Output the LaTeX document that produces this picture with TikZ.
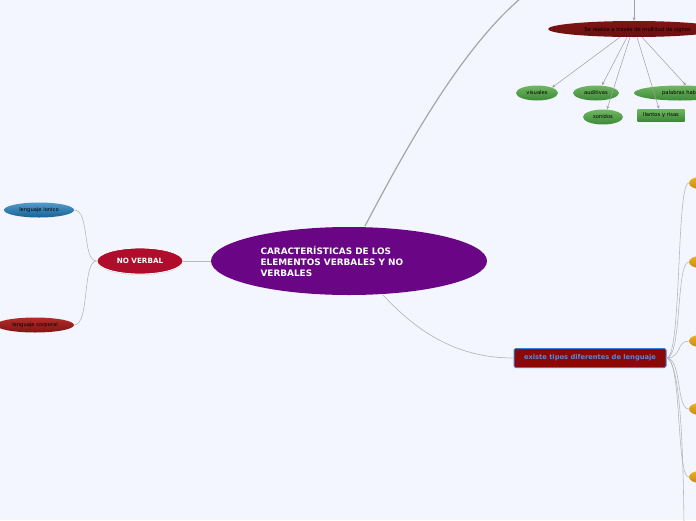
\documentclass[tikz,border=0pt]{standalone}
\usepackage{fontspec}
\setmainfont{DejaVu Sans}
\usetikzlibrary{shapes.geometric,arrows.meta,shadows}
\definecolor{bgc}{RGB}{243,246,254}
\definecolor{mainpurple}{RGB}{106,5,133}
\definecolor{crimson}{RGB}{176,12,44}
\definecolor{bluenode}{RGB}{38,130,188}
\definecolor{bluenodedk}{RGB}{24,96,150}
\definecolor{darkred}{RGB}{130,20,20}
\definecolor{darkredlt}{RGB}{175,45,40}
\definecolor{boxred}{RGB}{138,8,8}
\definecolor{boxblue}{RGB}{60,126,219}
\definecolor{greenlt}{RGB}{112,182,96}
\definecolor{greendk}{RGB}{60,138,56}
\definecolor{orangen}{RGB}{232,160,32}
\definecolor{linec}{RGB}{185,185,185}
\definecolor{arrowc}{RGB}{160,160,160}
\tikzset{
  x=1pt,y=-1pt,
  conn/.style={draw=linec,line width=0.6pt},
  thickconn/.style={draw=linec!90!black,line width=1.2pt},
  arr/.style={draw=arrowc,line width=0.5pt,-{Stealth[length=3.5pt,width=3pt]}},
  ell/.style={ellipse,inner sep=0pt,font=\fontsize{5.2}{6}\selectfont,text=black},
  greenell/.style={ell,top color=greenlt,bottom color=greendk},
  orangenode/.style={ellipse,inner sep=0pt,minimum width=22pt,minimum height=12pt,top color=orangen!80!yellow,bottom color=orangen!85!black}
}
\begin{document}
\begin{tikzpicture}
\fill[bgc] (0,0) rectangle (696,520);
\useasboundingbox (0,0) rectangle (696,520);
\clip (0,0) rectangle (696,520);

% main node
\node[ellipse,fill=mainpurple,minimum width=276pt,minimum height=68pt,inner sep=0pt] (main) at (349,261) {};
\node[anchor=west,text=white,align=left,font=\bfseries\fontsize{8.9}{11}\selectfont] (maintext) at (257,261) {CARACTERÍSTICAS DE LOS\\ELEMENTOS VERBALES Y NO\\VERBALES};

% no verbal
\node[ellipse,fill=crimson,draw=white,line width=0.8pt,minimum width=86pt,minimum height=26pt,inner sep=0pt,text=white,font=\bfseries\fontsize{7.2}{8}\selectfont,drop shadow={opacity=0.25,shadow xshift=0pt,shadow yshift=-1pt}] (nv) at (140,261) {NO VERBAL};
\node[ell,top color=bluenode!80!white,bottom color=bluenodedk,minimum width=70pt,minimum height=15pt] (icon) at (39,210) {lenguaje ionico};
\node[ell,top color=darkredlt,bottom color=darkred,minimum width=78pt,minimum height=15pt] (corp) at (35,325) {lenguaje corporal};

\draw[conn] (main.west) -- (nv.east);
\draw[conn] (nv.west) .. controls (82,261) and (90,210) .. (icon.east);
\draw[conn] (nv.west) .. controls (82,261) and (90,325) .. (corp.east);

% exist box
\node[rectangle,rounded corners=1.5pt,fill=boxred,draw=boxblue,line width=1pt,minimum width=152pt,minimum height=19pt,inner sep=0pt,text=boxblue!90!white,font=\bfseries\fontsize{6.7}{7}\selectfont] (ex) at (590,358) {existe tipos diferentes de lenguaje};
\coordinate (mainse) at (383,295);
\draw[conn,line width=0.7pt] (mainse) .. controls (420,335) and (460,358) .. (ex.west);

% orange nodes
\node[orangenode] (o1) at (700,183) {};
\node[orangenode] (o2) at (700,262) {};
\node[orangenode] (o3) at (700,341) {};
\node[orangenode] (o4) at (700,409) {};
\node[orangenode] (o5) at (700,477) {};
\coordinate (obot) at (684,525);
\foreach \o/\y in {o1/183,o2/262,o3/341,o4/409,o5/477}{
  \draw[conn] (ex.east) .. controls (682,358) and (676,\y) .. (\o.west);
}
\draw[conn] (ex.east) .. controls (680,362) and (683,440) .. (obot);

% top branch
\coordinate (maintop) at (365,226);
\coordinate (topout) at (521,-2);
\draw[thickconn] (maintop) .. controls (405,150) and (460,50) .. (topout);

\node[ell,top color=darkred,bottom color=darkred!80!black,minimum width=172pt,minimum height=16pt] (sig) at (634,29) {};
\node[font=\fontsize{5.2}{6}\selectfont,text=black,anchor=east,inner sep=0pt] (sigtext) at (691,30) {Se realiza a través de multitud de signos};
\coordinate (sigin) at (634,-2);
\draw[arr] (sigin) -- (sig.north);

\node[greenell,minimum width=42pt,minimum height=15pt] (vis) at (537,93) {visuales};
\node[greenell,minimum width=46pt,minimum height=15pt] (aud) at (596,93) {auditivas};
\node[greenell,minimum width=40pt,minimum height=15pt] (son) at (603,117) {sonidos};
\node[greenell,minimum width=92pt,minimum height=15pt] (pal) at (680,93) {\hspace*{12pt}palabras habladas};
\node[rectangle,top color=greenlt,bottom color=greendk,minimum width=47pt,minimum height=12pt,inner sep=0pt,font=\fontsize{5.2}{6}\selectfont,text=black] (llan) at (661,115) {llantos y risas};

\draw[arr] ([xshift=-14pt]sig.south) -- (vis.north east);
\draw[arr] ([xshift=-7pt]sig.south) -- ([xshift=6pt]aud.north);
\draw[arr] ([xshift=-4pt]sig.south) -- ([xshift=4pt]son.north);
\draw[arr] ([xshift=3pt]sig.south) -- ([xshift=-2pt]llan.north);
\draw[arr] ([xshift=8pt]sig.south) -- ([xshift=6pt]pal.north);
\end{tikzpicture}
\end{document}
